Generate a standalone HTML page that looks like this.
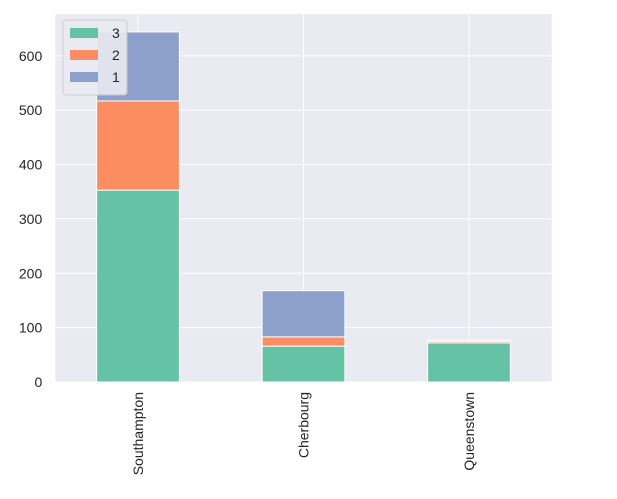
<!DOCTYPE html>
<html><head><meta charset="utf-8"><style>
body{margin:0;background:#fff;}
svg text{font-family:"Liberation Sans","DejaVu Sans",sans-serif;fill:#262626;}
</style></head><body>
<svg id="chart" width="617" height="494" xmlns="http://www.w3.org/2000/svg"></svg>
<script>
const categories=["Southampton","Cherbourg","Queenstown"];
const seriesNames=["3","2","1"];
const class3=[353,66,72];
const class2=[164,17,3];
const class1=[127,85,2];
const yTicks=[0,100,200,300,400,500,600];
const colors=["#66c2a5","#fc8d62","#8da0cb"];
const series=[class3,class2,class1];
const svg=document.getElementById('chart');
const NS="http://www.w3.org/2000/svg";
const L=55.25,R=551.75,T=14,B=382,yMax=677;
const y=v=>B-(v/yMax)*(B-T);
const step=(R-L)/categories.length;
const xc=i=>L+step*(i+0.5);
function mk(t,a,p){const e=document.createElementNS(NS,t);for(const k in a)e.setAttribute(k,a[k]);(p||svg).appendChild(e);return e;}
const bg=mk('rect',{x:L,y:T,width:R-L,height:B-T,fill:'#eaeaf2'});


yTicks.forEach(t=>{
 const g=mk('line',{x1:L,x2:R,y1:y(t),y2:y(t),stroke:'#fff','stroke-width':1});
 
 
 const tx=mk('text',{x:L-13,y:y(t)+5,'text-anchor':'end','font-size':14});
 tx.textContent=t;
 
 
});
categories.forEach((c,i)=>{
 const g=mk('line',{x1:xc(i),x2:xc(i),y1:T,y2:B,stroke:'#fff','stroke-width':1});
 
 
});
const bw=step*0.5;
categories.forEach((c,i)=>{
 let base=0;
 series.forEach((s,k)=>{
  const v=s[i];
  const r=mk('rect',{x:xc(i)-bw/2,y:y(base+v),width:bw,height:y(base)-y(base+v),fill:colors[k],stroke:'#fff','stroke-width':1});
  
  
  base+=v;
 });
 const tx=mk('text',{transform:`translate(${xc(i)+5},${B+10}) rotate(-90)`,'text-anchor':'end','font-size':14});
 tx.textContent=c;
 
 
});
const lg=mk('g',{});


mk('rect',{x:63,y:20,width:64,height:75,rx:3,fill:'#eaeaf2',stroke:'#cccccc','stroke-width':1,opacity:0.9},lg);
seriesNames.forEach((n,k)=>{
 const yy=28+k*22;
 const sw=mk('rect',{x:70,y:yy,width:28,height:10,fill:colors[k]},lg);
 
 
 const t=mk('text',{x:112,y:yy+10,'font-size':14},lg);
 t.textContent=n;
 
 
});
</script>
</body></html>
